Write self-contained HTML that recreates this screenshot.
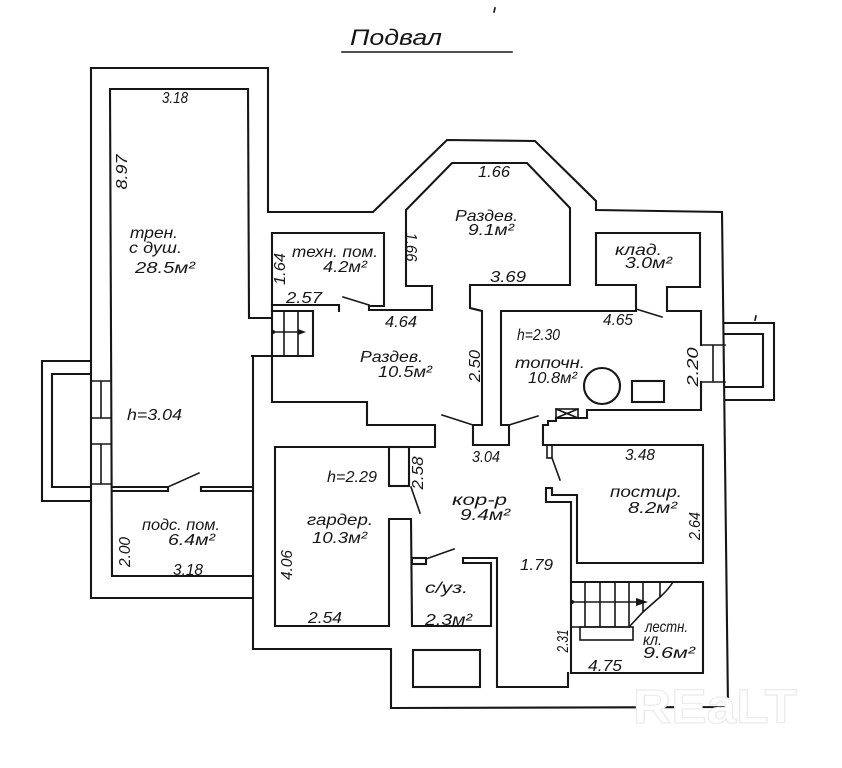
<!DOCTYPE html>
<html>
<head>
<meta charset="utf-8">
<style>
  html,body{margin:0;padding:0;background:#fff;}
  svg{display:block;}
  .w{fill:none;stroke:#161616;stroke-width:2.1;stroke-linejoin:miter;stroke-linecap:square;}
  .t{stroke-width:1.6;}
  .lb{font-family:"Liberation Sans","DejaVu Sans",sans-serif;font-style:italic;fill:#161616;}
  .n{font-size:16px;}
  .d{font-size:16px;}
</style>
</head>
<body>
<svg width="842" height="768" viewBox="0 0 842 768" xmlns="http://www.w3.org/2000/svg">
  <rect width="842" height="768" fill="#fff"/>

  <!-- title -->
  <text class="lb" x="350" y="45" font-size="22" textLength="92" lengthAdjust="spacingAndGlyphs">Подвал</text>
  <line class="w t" x1="342" y1="52" x2="512" y2="52"/>
  <line class="w t" x1="495" y1="8" x2="494" y2="12"/>

  <!-- outer boundary -->
  <path class="w" d="M91,68 L268,68 L268,212 L373,212 L447,140 L535,141 L596,201 L596,210 L722,212 L728,707 L391,708 L391,649 L253,649"/>
  <path class="w" d="M253,598 L91,598 L91,68"/>

  <!-- left window pit -->
  <path class="w" d="M91,361 L42,361 L42,501 L91,501"/>
  <path class="w" d="M91,374 L52,374 L52,487 L91,487"/>
  <path class="w t" d="M91,381 L111,381 M91,418 L111,418 M101,381 L101,418 M91,444 L111,444 M91,484 L111,484 M101,444 L101,484"/>

  <!-- трен + подс inner -->
  <path class="w" d="M272,318 L249,318 L248,89 L110,89 L112,576 L253,576"/>
  <path class="w" d="M253,356 L253,649"/>
  <path class="w" d="M252,356 L313,356 L313,311 L272,311"/>
  <!-- partition трен/подс -->
  <path class="w" d="M112,487 L168,487 L168,491 L112,491"/>
  <path class="w" d="M253,487 L201,487 L201,491 L253,491"/>
  <line class="w t" x1="168" y1="487" x2="199" y2="473"/>

  <!-- left stairs -->
  <path class="w t" d="M284,311 L284,356 M298,311 L298,356 M273,332 L300,332"/>
  <circle cx="273" cy="332" r="2" fill="#161616"/>
  <polygon points="298,329 306,332 298,335" fill="#161616"/>

  <!-- техн / 10.5 / гардероб / с/уз / корр chains -->
  <path class="w" d="M272,233 L384,233 L384,306 L369,306 L369,310 L432,310 L432,286 L406,286 L406,210 L452,163 L527,163 L570,208 L570,285 L470,285 L470,308 L482,311 L482,425 L473,425 L473,445 L509,445 L509,425 L501,425 L501,311 L636,311 L636,285 L596,285 L596,233 L700,233 L700,287 L667,287 L667,311 L701,311 L701,345"/>
  <path class="w" d="M272,233 L272,402 L367,402 L367,425 L435,425 L435,447 L275,447 L275,626 L389,626 L389,519 L411,519 L412,626 L491,626 L491,563 L463,563 L463,558 L497,558 L497,687 L568,687 L568,673"/>
  <!-- техн bottom slab -->
  <path class="w" d="M272,305 L339,305 L339,311"/>
  <line class="w t" x1="369" y1="305" x2="343" y2="297"/>
  <!-- garderob pier + door -->
  <rect class="w" x="389" y="447" width="20" height="39"/>
  <line class="w t" x1="411" y1="487" x2="420" y2="513"/>
  <!-- с/уз jamb + door -->
  <rect class="w" x="412" y="558" width="14" height="6"/>
  <line class="w t" x1="426" y1="559" x2="454" y2="549"/>
  <!-- pit below с/уз -->
  <rect class="w" x="413" y="650" width="67" height="37"/>

  <!-- doors around corridor top -->
  <line class="w t" x1="473" y1="425" x2="442" y2="415"/>
  <line class="w t" x1="509" y1="425" x2="538" y2="416"/>
  <line class="w t" x1="636" y1="309" x2="662" y2="317"/>

  <!-- топочн right + window -->
  <path class="w" d="M701,382 L701,410 L587,410 L587,418 L556,418 L556,421 L548,421 L548,425 L543,425 L543,445 L703,445 L703,563 L577,563 L577,495 L552,495 L552,488 L546,488 L546,502 L571,502 L571,673 L703,673 L703,582 L571,582"/>
  <path class="w t" d="M701,345 L725,345 M701,382 L725,382 M713,345 L713,382"/>
  <path class="w" d="M725,323 L774,323 L774,400 L725,400"/>
  <path class="w" d="M725,334 L763,334 L763,387 L725,387"/>
  <line class="w t" x1="756" y1="316" x2="755" y2="320"/>
  <!-- X box -->
  <rect class="w t" x="556" y="409" width="22" height="9"/>
  <path class="w t" d="M556,409 L578,418 M578,409 L556,418"/>
  <!-- boiler -->
  <circle class="w" cx="602" cy="386" r="18"/>
  <rect class="w" x="632" y="381" width="32" height="21"/>
  <!-- постир door -->
  <rect class="w t" x="547" y="445" width="5" height="13"/>
  <line class="w t" x1="552" y1="458" x2="560" y2="480"/>

  <!-- right stairs -->
  <path class="w t" d="M571,627 L629,627 M585,582 L585,627 M600,582 L600,627 M615,582 L615,627 M629,582 L629,627 M643,582 L643,612 M660,582 L660,597 M629,627 L643,612 L660,597 Q668,590 673,582 M571,602 L640,602"/>
  <circle cx="572" cy="602" r="2" fill="#161616"/>
  <polygon points="636,598 648,602 636,606" fill="#161616"/>
  <rect class="w t" x="580" y="627" width="53" height="13"/>

  <!-- labels -->
  <text class="lb d" x="162" y="103" textLength="26" lengthAdjust="spacingAndGlyphs">3.18</text>
  <text class="lb d" x="121" y="178" text-anchor="middle" transform="rotate(-90 121 172)" textLength="35" lengthAdjust="spacingAndGlyphs">8.97</text>
  <text class="lb n" x="130" y="238" textLength="48" lengthAdjust="spacingAndGlyphs">трен.</text>
  <text class="lb n" x="129" y="253" textLength="53" lengthAdjust="spacingAndGlyphs">с душ.</text>
  <text class="lb n" x="135" y="273" textLength="60" lengthAdjust="spacingAndGlyphs">28.5м²</text>
  <text class="lb d" x="127" y="420" textLength="55" lengthAdjust="spacingAndGlyphs">h=3.04</text>
  <text class="lb n" x="142" y="530" textLength="78" lengthAdjust="spacingAndGlyphs">подс. пом.</text>
  <text class="lb n" x="168" y="545" textLength="47" lengthAdjust="spacingAndGlyphs">6.4м²</text>
  <text class="lb d" x="124" y="558" text-anchor="middle" transform="rotate(-90 124 552)" textLength="30" lengthAdjust="spacingAndGlyphs">2.00</text>
  <text class="lb d" x="173" y="575" textLength="30" lengthAdjust="spacingAndGlyphs">3.18</text>

  <text class="lb n" x="292" y="257" textLength="86" lengthAdjust="spacingAndGlyphs">техн. пом.</text>
  <text class="lb n" x="323" y="272" textLength="44" lengthAdjust="spacingAndGlyphs">4.2м²</text>
  <text class="lb d" x="279" y="275" text-anchor="middle" transform="rotate(-90 279 269)" textLength="32" lengthAdjust="spacingAndGlyphs">1.64</text>
  <text class="lb d" x="286" y="303" textLength="36" lengthAdjust="spacingAndGlyphs">2.57</text>
  <text class="lb d" x="385" y="327" textLength="32" lengthAdjust="spacingAndGlyphs">4.64</text>
  <text class="lb d" x="412" y="253" text-anchor="middle" transform="rotate(90 412 247)" textLength="29" lengthAdjust="spacingAndGlyphs">1.66</text>

  <text class="lb d" x="478" y="177" textLength="32" lengthAdjust="spacingAndGlyphs">1.66</text>
  <text class="lb n" x="455" y="221" textLength="63" lengthAdjust="spacingAndGlyphs">Раздев.</text>
  <text class="lb n" x="468" y="235" textLength="46" lengthAdjust="spacingAndGlyphs">9.1м²</text>
  <text class="lb d" x="490" y="282" textLength="36" lengthAdjust="spacingAndGlyphs">3.69</text>

  <text class="lb n" x="615" y="255" textLength="47" lengthAdjust="spacingAndGlyphs">клад.</text>
  <text class="lb n" x="625" y="268" textLength="47" lengthAdjust="spacingAndGlyphs">3.0м²</text>
  <text class="lb d" x="603" y="325" textLength="30" lengthAdjust="spacingAndGlyphs">4.65</text>
  <text class="lb d" x="517" y="340" textLength="43" lengthAdjust="spacingAndGlyphs">h=2.30</text>
  <text class="lb n" x="515" y="368" textLength="70" lengthAdjust="spacingAndGlyphs">топочн.</text>
  <text class="lb n" x="528" y="383" textLength="49" lengthAdjust="spacingAndGlyphs">10.8м²</text>
  <text class="lb d" x="692" y="373" text-anchor="middle" transform="rotate(-90 692 367)" textLength="39" lengthAdjust="spacingAndGlyphs">2.20</text>

  <text class="lb n" x="360" y="362" textLength="63" lengthAdjust="spacingAndGlyphs">Раздев.</text>
  <text class="lb n" x="378" y="377" textLength="54" lengthAdjust="spacingAndGlyphs">10.5м²</text>
  <text class="lb d" x="474" y="372" text-anchor="middle" transform="rotate(-90 474 366)" textLength="32" lengthAdjust="spacingAndGlyphs">2.50</text>
  <text class="lb d" x="472" y="462" textLength="28" lengthAdjust="spacingAndGlyphs">3.04</text>
  <text class="lb d" x="417" y="479" text-anchor="middle" transform="rotate(-90 417 473)" textLength="33" lengthAdjust="spacingAndGlyphs">2.58</text>

  <text class="lb n" x="452" y="505" textLength="55" lengthAdjust="spacingAndGlyphs">кор-р</text>
  <text class="lb n" x="460" y="520" textLength="50" lengthAdjust="spacingAndGlyphs">9.4м²</text>
  <text class="lb d" x="327" y="482" textLength="50" lengthAdjust="spacingAndGlyphs">h=2.29</text>
  <text class="lb n" x="307" y="525" textLength="66" lengthAdjust="spacingAndGlyphs">гардер.</text>
  <text class="lb n" x="312" y="543" textLength="55" lengthAdjust="spacingAndGlyphs">10.3м²</text>
  <text class="lb d" x="286" y="571" text-anchor="middle" transform="rotate(-90 286 565)" textLength="30" lengthAdjust="spacingAndGlyphs">4.06</text>
  <text class="lb d" x="308" y="623" textLength="34" lengthAdjust="spacingAndGlyphs">2.54</text>
  <text class="lb n" x="425" y="593" textLength="43" lengthAdjust="spacingAndGlyphs">с/уз.</text>
  <text class="lb n" x="425" y="625" textLength="47" lengthAdjust="spacingAndGlyphs">2.3м²</text>
  <text class="lb d" x="520" y="570" textLength="33" lengthAdjust="spacingAndGlyphs">1.79</text>

  <text class="lb d" x="625" y="460" textLength="30" lengthAdjust="spacingAndGlyphs">3.48</text>
  <text class="lb n" x="610" y="497" textLength="72" lengthAdjust="spacingAndGlyphs">постир.</text>
  <text class="lb n" x="628" y="513" textLength="49" lengthAdjust="spacingAndGlyphs">8.2м²</text>
  <text class="lb d" x="694" y="532" text-anchor="middle" transform="rotate(-90 694 526)" textLength="28" lengthAdjust="spacingAndGlyphs">2.64</text>

  <text class="lb n" x="645" y="632" textLength="43" lengthAdjust="spacingAndGlyphs">лестн.</text>
  <text class="lb n" x="643" y="645" textLength="19" lengthAdjust="spacingAndGlyphs">кл.</text>
  <text class="lb n" x="643" y="658" textLength="52" lengthAdjust="spacingAndGlyphs">9.6м²</text>
  <text class="lb d" x="562" y="647" text-anchor="middle" transform="rotate(-90 562 641)" textLength="23" lengthAdjust="spacingAndGlyphs">2.31</text>
  <text class="lb d" x="588" y="671" textLength="34" lengthAdjust="spacingAndGlyphs">4.75</text>

  <!-- watermark -->
  <text x="633" y="723" font-family="Liberation Sans, sans-serif" font-weight="bold" font-size="48" fill="#fff" stroke="#ececec" stroke-width="1.3" textLength="164" lengthAdjust="spacingAndGlyphs">REaLT</text>
</svg>
</body>
</html>
